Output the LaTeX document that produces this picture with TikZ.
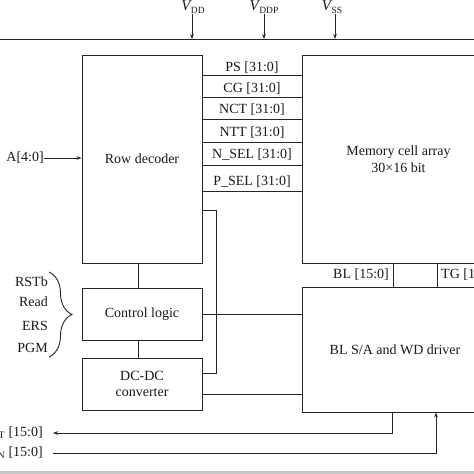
\documentclass[tikz,border=0pt]{standalone}
\usepackage{fontspec}
\setmainfont{Liberation Serif}
\usetikzlibrary{arrows.meta,decorations.pathreplacing}
\begin{document}
\begin{tikzpicture}[x=1pt,y=-1pt,
  every node/.style={font=\fontsize{14}{17}\selectfont, text=black!90},
  box/.style={draw=black!85, line width=0.9pt, inner sep=0pt, align=center},
  wire/.style={draw=black!85, line width=0.9pt},
  arr/.style={wire, -{Stealth[length=5pt,width=3.6pt]}},
  lbl/.style={inner sep=0pt}]
\useasboundingbox (0,0) rectangle (474,474);
\fill[black!22] (0,471) rectangle (474,474);
% top supply bus
\coordinate (busL) at (0,39);
\coordinate (busR) at (474,39);
\draw[wire] (busL) -- (busR);
\node[lbl, anchor=south] (vdd) at (193,13.5) {\fontsize{15}{15}\selectfont\textit{V}\kern-1pt\raisebox{-0.35ex}{\fontsize{9.5}{9.5}\selectfont DD}};
\node[lbl, anchor=south] (vddp) at (264,13.5) {\fontsize{15}{15}\selectfont\textit{V}\kern-1pt\raisebox{-0.35ex}{\fontsize{9.5}{9.5}\selectfont DDP}};
\node[lbl, anchor=south] (vss) at (332,13.5) {\fontsize{15}{15}\selectfont\textit{V}\kern-1pt\raisebox{-0.35ex}{\fontsize{9.5}{9.5}\selectfont SS}};
\coordinate (xvdd) at (192,0);
\coordinate (xvddp) at (264,0);
\coordinate (xvss) at (335,0);
\draw[arr] (vdd.south -| xvdd) -- (busL -| xvdd);
\draw[arr] (vddp.south -| xvddp) -- (busL -| xvddp);
\draw[arr] (vss.south -| xvss) -- (busL -| xvss);
% blocks
\node[box, minimum width=120pt, minimum height=208pt] (rd) at (142,159) {Row decoder};
\node[box, minimum width=193pt, minimum height=208pt] (mem) at (398.5,159) {Memory cell array\\30×16 bit};
\node[box, minimum width=120pt, minimum height=52pt] (cl) at (142,314) {Control logic};
\node[box, minimum width=120pt, minimum height=52pt, font=\fontsize{14}{15.5}\selectfont] (dc) at (142,384) {DC-DC\\converter};
\node[box, minimum width=186pt, minimum height=125pt] (bl) at (395,349.5) {BL S/A and WD driver};
% address input
\node[lbl, anchor=east] (alab) at (44,158) {A[4:0]};
\draw[arr] (alab.east) -- (rd.west |- alab.east);
% signal bus between row decoder and array
\foreach \n/\t/\ty/\ly in {ps/PS [31:0]/68/75.5, cg/CG [31:0]/88.5/97.5, nct/NCT [31:0]/110/119.5, ntt/NTT [31:0]/132.5/142, nsel/N\_SEL [31:0]/155/165, psel/P\_SEL [31:0]/181.5/191.5}{
  \node[lbl] (\n) at (252,\ty) {\t};
  \coordinate (\n y) at (0,\ly);
  \draw[wire] (rd.east |- \n y) -- (mem.west |- \n y);
}
% feedback from row decoder to DC-DC converter
\coordinate (fbtop) at (216,210);
\coordinate (fbbot) at (216,373);
\draw[wire] (rd.east |- fbtop) -- (fbtop) -- (fbbot) -- (dc.east |- fbbot);
% vertical links
\coordinate (xv) at (138,0);
\draw[wire] (rd.south -| xv) -- (cl.north -| xv);
\draw[wire] (cl.south -| xv) -- (dc.north -| xv);
% links to BL S/A
\draw[wire] (cl.east) -- (cl.east -| bl.west);
\coordinate (dcy) at (0,394);
\draw[wire] (dc.east |- dcy) -- (bl.west |- dcy);
% BL / TG between array and driver
\coordinate (xs1) at (393,0);
\coordinate (xs2) at (437,0);
\draw[wire] (mem.south -| xs1) -- (bl.north -| xs1);
\draw[wire] (mem.south -| xs2) -- (bl.north -| xs2);
\node[lbl, anchor=east] (bllab) at (389,275) {BL [15:0]};
\node[lbl, anchor=west] (tglab) at (441,275) {TG [15:0]};
% control inputs with brace
\node[lbl, anchor=east] (rst) at (48,282) {RSTb};
\node[lbl, anchor=east] (read) at (48,302) {Read};
\node[lbl, anchor=east] (ers) at (48,326) {ERS};
\node[lbl, anchor=east] (pgm) at (48,348) {PGM};
\coordinate (br1) at (49,272);
\coordinate (br2) at (49,357);
\draw[wire, decorate, decoration={brace, amplitude=23pt}] (br1) -- (br2);
% data out / in
\node[lbl, anchor=east] (dout) at (43,433) {\textit{D}\textsubscript{OUT} [15:0]};
\node[lbl, anchor=east] (din) at (43,453) {\textit{D}\textsubscript{IN} [15:0]};
\coordinate (doutend) at (53,433);
\coordinate (dinstart) at (53,453);
\coordinate (xo) at (392,0);
\coordinate (xi) at (436,0);
\draw[arr] (bl.south -| xo) |- (doutend);
\draw[arr] (dinstart) -| (bl.south -| xi);
\end{tikzpicture}
\end{document}
